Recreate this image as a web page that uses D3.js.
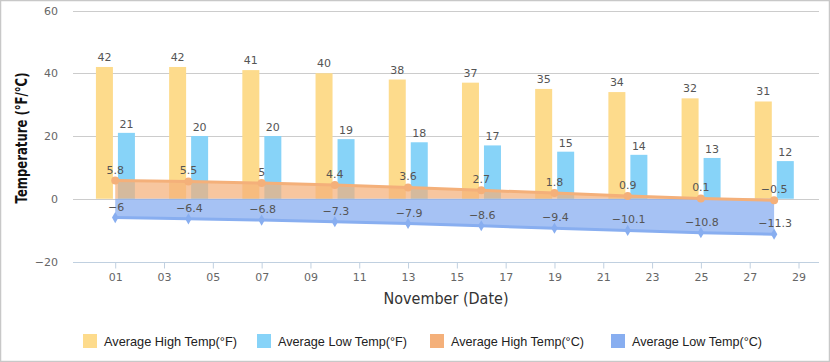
<!DOCTYPE html>
<html><head><meta charset="utf-8">
<script src="https://cdn.jsdelivr.net/npm/d3@7"></script>
<style>body{margin:0;background:#fff}svg{display:block}</style>
</head><body>
<svg id="c" width="830" height="362"></svg>
<script>
const days = [1, 4, 7, 10, 13, 16, 19, 22, 25, 28];
const highF = [42, 42, 41, 40, 38, 37, 35, 34, 32, 31];
const lowF = [21, 20, 20, 19, 18, 17, 15, 14, 13, 12];
const highC = [5.8, 5.5, 5, 4.4, 3.6, 2.7, 1.8, 0.9, 0.1, -0.5];
const lowC = [-6, -6.4, -6.8, -7.3, -7.9, -8.6, -9.4, -10.1, -10.8, -11.3];
const xTicks = [1, 3, 5, 7, 9, 11, 13, 15, 17, 19, 21, 23, 25, 27, 29];
const yTicks = [-20, 0, 20, 40, 60];
const seriesNames = ["Average High Temp(°F)", "Average Low Temp(°F)", "Average High Temp(°C)", "Average Low Temp(°C)"];
const colors = ["#fddb8c", "#87d3f8", "#f4b07a", "#88aef0"];

const svg = d3.select("#c");
svg.append("rect").attr("x", 0.5).attr("y", 0.5).attr("width", 829).attr("height", 361)
  .attr("fill", "#fff").attr("stroke", "#c8c8c8").attr("stroke-width", 1.5);

const x = d3.scaleLinear().domain([-0.73, 29.84]).range([73, 819]);
const y = d3.scaleLinear().domain([-20, 60]).range([261.5, 10.5]);
const fmt = d3.format("");
const numFont = "DejaVu Sans, Verdana, sans-serif";

// grid lines
svg.append("g").selectAll("line").data(yTicks.filter(d => d > -20)).join("line")
  .attr("x1", 73).attr("x2", 819).attr("y1", d => Math.round(y(d)) + 0.5).attr("y2", d => Math.round(y(d)) + 0.5)
  .attr("stroke", "#cccccc").attr("stroke-width", 1);

// y axis labels
const yAxis = d3.axisLeft(y).tickValues(yTicks).tickSize(0).tickPadding(0).tickFormat(fmt);
const gy = svg.append("g").attr("transform", "translate(58,0)").call(yAxis);
gy.select(".domain").remove();
gy.selectAll("text").attr("font-family", numFont).attr("font-size", 11).attr("fill", "#666");

// x axis
const xAxis = d3.axisBottom(x).tickValues(xTicks).tickSize(6).tickPadding(5).tickFormat(d3.format("02d"));
const gx = svg.append("g").attr("transform", `translate(0,${Math.round(y(-20)) + 0.5})`).call(xAxis);
gx.select(".domain").attr("d", "M73,0H819").attr("stroke", "#c0d0e0");
gx.selectAll(".tick line").attr("stroke", "#c0d0e0");
gx.selectAll("text").attr("font-family", numFont).attr("font-size", 11).attr("fill", "#666");

// bars
const bw = 17;
svg.append("g").selectAll("rect").data(days).join("rect")
  .attr("x", (d) => x(d) - 19.3).attr("width", bw)
  .attr("y", (d, i) => y(highF[i])).attr("height", (d, i) => y(0) - y(highF[i]))
  .attr("fill", colors[0]);
svg.append("g").selectAll("rect").data(days).join("rect")
  .attr("x", (d) => x(d) + 2.7).attr("width", bw)
  .attr("y", (d, i) => y(lowF[i])).attr("height", (d, i) => y(0) - y(lowF[i]))
  .attr("fill", colors[1]);

// areas
const areaH = d3.area().x((d, i) => x(days[i])).y0(y(0)).y1(d => y(d));
svg.append("path").datum(highC).attr("d", areaH).attr("fill", colors[2]).attr("fill-opacity", 0.72);
svg.append("path").datum(lowC).attr("d", areaH).attr("fill", colors[3]).attr("fill-opacity", 0.75);

const line = d3.line().x((d, i) => x(days[i])).y(d => y(d));
svg.append("path").datum(highC).attr("d", line).attr("fill", "none").attr("stroke", colors[2]).attr("stroke-width", 3);
svg.append("path").datum(lowC).attr("d", line).attr("fill", "none").attr("stroke", colors[3]).attr("stroke-width", 3);

svg.append("g").selectAll("circle").data(highC).join("circle")
  .attr("cx", (d, i) => x(days[i])).attr("cy", d => y(d)).attr("r", 4).attr("fill", colors[2]);
svg.append("g").selectAll("path").data(lowC).join("path")
  .attr("transform", (d, i) => `translate(${x(days[i])},${y(d)})`)
  .attr("d", d3.symbol(d3.symbolDiamond, 36)).attr("fill", colors[3]);

// value labels
const lab = (data, dx, dy) => svg.append("g").selectAll("text").data(data).join("text")
  .attr("x", (d, i) => x(days[i]) + dx).attr("y", d => y(d) + dy)
  .attr("text-anchor", "middle").attr("font-family", numFont).attr("font-size", 11).attr("fill", "#555")
  .text(d => fmt(d));
lab(highF, -10.8, -6);
lab(lowF, 11.2, -5);
lab(highC, 0, -7);
lab(lowC, 1, -7);

// axis titles
svg.append("text").attr("x", 446).attr("y", 304).attr("text-anchor", "middle")
  .attr("font-family", numFont).attr("font-size", 15).attr("fill", "#333")
  .attr("textLength", 125).attr("lengthAdjust", "spacingAndGlyphs").text("November (Date)");
svg.append("text").attr("transform", "translate(27,138) rotate(-90)").attr("text-anchor", "middle")
  .attr("font-family", numFont).attr("font-size", 15).attr("font-weight", "bold").attr("fill", "#111")
  .attr("textLength", 131).attr("lengthAdjust", "spacingAndGlyphs").text("Temperature (°F/°C)");

// legend
const legX = [83, 257, 430, 611];
const legW = [133, 129, 133, 130];
const lg = svg.append("g").selectAll("g").data(seriesNames).join("g")
  .attr("transform", (d, i) => `translate(${legX[i]},334)`);
lg.append("rect").attr("width", 14).attr("height", 14).attr("fill", (d, i) => colors[i]);
lg.append("text").attr("x", 21).attr("y", 12).attr("font-family", "Liberation Sans, Arial, sans-serif")
  .attr("font-size", 13).attr("fill", "#222")
  .attr("textLength", (d, i) => legW[i]).attr("lengthAdjust", "spacingAndGlyphs")
  .text(d => d);
</script>
</body></html>
